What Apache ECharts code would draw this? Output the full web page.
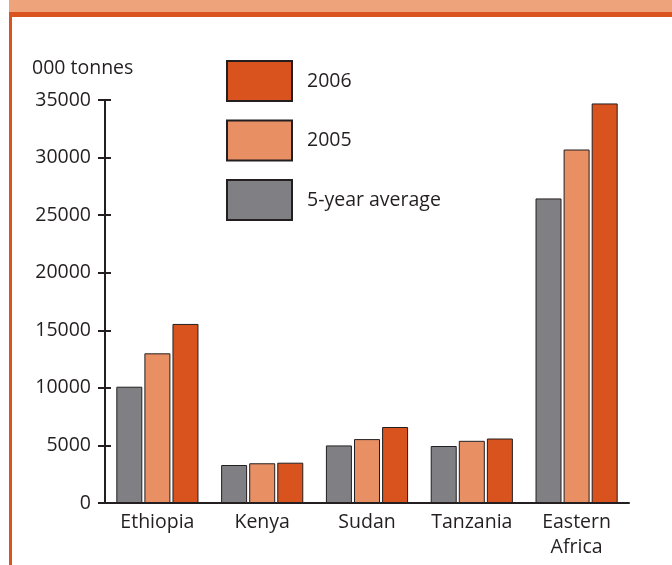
<!DOCTYPE html>
<html>
<head>
<meta charset="utf-8">
<script src="https://cdn.jsdelivr.net/npm/echarts@6/dist/echarts.min.js"></script>
<style>
html,body{margin:0;padding:0;background:#fff;}
#main{width:672px;height:565px;}
</style>
</head>
<body>
<div id="main"></div>
<script>
const categories = ['Ethiopia', 'Kenya', 'Sudan', 'Tanzania', 'Eastern\nAfrica'];
const avg5 = [10100, 3300, 5000, 4950, 26450];
const y2005 = [13000, 3450, 5550, 5400, 30700];
const y2006 = [15550, 3500, 6600, 5600, 34700];
const yTicks = [0, 5000, 10000, 15000, 20000, 25000, 30000, 35000];

const FONT = '"Open Sans", "Noto Sans", sans-serif';
const TXT = '#231f20';
const C_AVG = '#808084';
const C_05 = '#e88f64';
const C_06 = '#d9531e';

const chart = echarts.init(document.getElementById('main'), null, {renderer: 'canvas'});

function bar(name, data, color) {
  return {
    name: name,
    type: 'bar',
    data: data,
    barWidth: 26,
    barGap: '8%',
    yAxisIndex: 0,
    itemStyle: {color: color, borderColor: TXT, borderWidth: 1},
    emphasis: {disabled: true}
  };
}

chart.setOption({
  animation: false,
  backgroundColor: '#fff',
  textStyle: {fontFamily: FONT},
  title: {
    text: '000 tonnes',
    left: 27,
    top: 53,
    textStyle: {fontFamily: FONT, fontSize: 19.5, fontWeight: 'normal', color: TXT}
  },
  graphic: [
    {type: 'rect', shape: {x: 9, y: 0, width: 663, height: 12}, style: {fill: '#eea37b'}},
    {type: 'rect', shape: {x: 9, y: 12, width: 663, height: 5}, style: {fill: '#d9541e'}},
    {type: 'rect', shape: {x: 9, y: 12, width: 3, height: 553}, style: {fill: '#d9541e'}}
  ],
  legend: {
    data: ['2006', '2005', '5-year average'],
    orient: 'vertical',
    left: 226,
    top: 60,
    padding: 0,
    itemWidth: 65,
    itemHeight: 40,
    itemGap: 17.5,
    icon: 'rect',
    selectedMode: false,
    textStyle: {fontFamily: FONT, fontSize: 19.5, color: TXT, padding: [0, 0, 0, 10]}
  },
  grid: {left: 105, right: 43, top: 100, bottom: 62, containLabel: false},
  xAxis: {
    type: 'category',
    data: categories,
    axisLine: {show: true, lineStyle: {color: TXT, width: 2}},
    axisTick: {show: false},
    axisLabel: {fontFamily: FONT, fontSize: 19.5, color: TXT, margin: 7, lineHeight: 25, interval: 0}
  },
  yAxis: [
    {
      type: 'value',
      min: 0,
      max: 35000,
      interval: 5000,
      axisLine: {show: true, lineStyle: {color: TXT, width: 2}},
      axisTick: {show: true, length: 7, lineStyle: {color: TXT, width: 2}},
      axisLabel: {fontFamily: FONT, fontSize: 19.5, color: TXT, margin: 14,
        formatter: function (v) { return String(v); }},
      splitLine: {show: false}
    },
    {
      type: 'value',
      position: 'left',
      min: 0,
      max: 35000,
      interval: 5000,
      axisLine: {show: false},
      axisTick: {show: true, inside: true, length: 6, lineStyle: {color: TXT, width: 2}},
      axisLabel: {show: false},
      splitLine: {show: false}
    }
  ],
  series: [
    bar('5-year average', avg5, C_AVG),
    bar('2005', y2005, C_05),
    bar('2006', y2006, C_06)
  ]
});
</script>
</body>
</html>
